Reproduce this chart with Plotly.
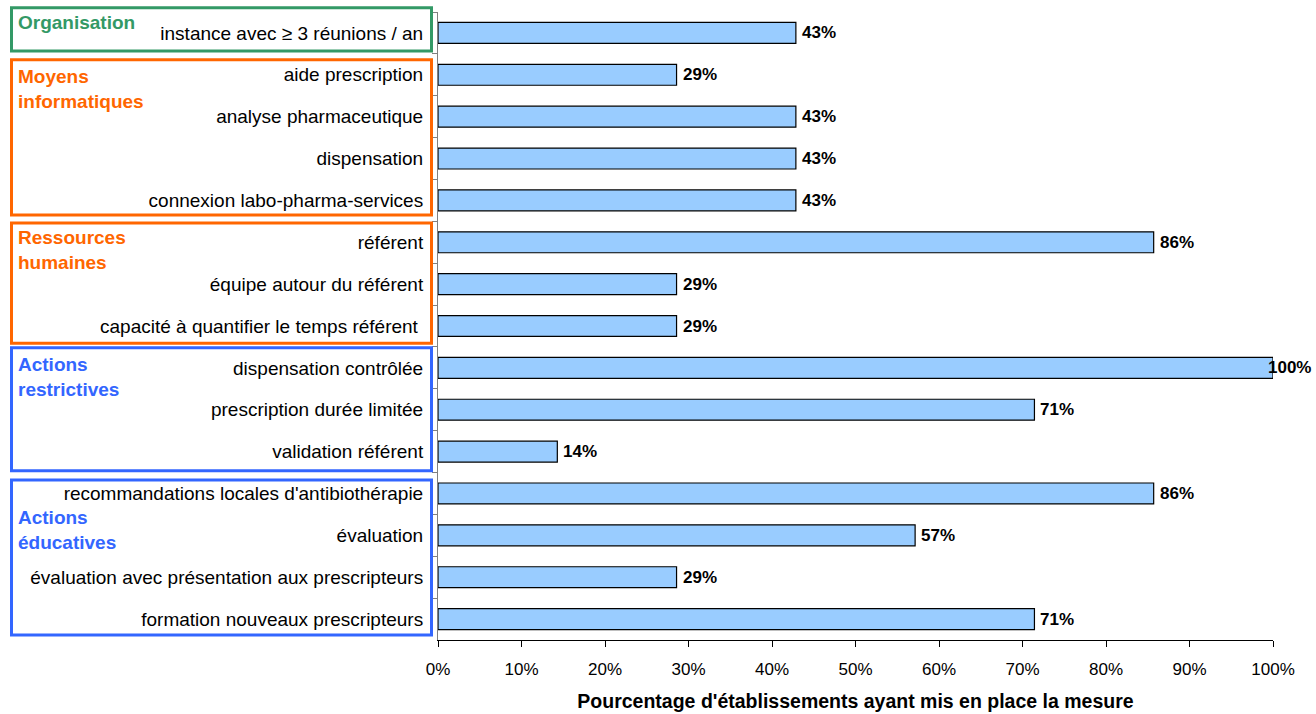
import plotly.graph_objects as go

# Measures (top to bottom) and share of establishments (n out of 7) that implemented each one
categories = [
    "instance avec ≥ 3 réunions / an",
    "aide prescription",
    "analyse pharmaceutique",
    "dispensation",
    "connexion labo-pharma-services",
    "référent",
    "équipe autour du référent",
    "capacité à quantifier le temps référent\u00a0",
    "dispensation contrôlée",
    "prescription durée limitée",
    "validation référent",
    "recommandations locales d'antibiothérapie",
    "évaluation",
    "évaluation avec présentation aux prescripteurs",
    "formation nouveaux prescripteurs",
]
values = [42.86, 28.57, 42.86, 42.86, 42.86, 85.71, 28.57, 28.57,
          100.0, 71.43, 14.29, 85.71, 57.14, 28.57, 71.43]

# Groups of measures: title, first and last row index
group_titles = ["Organisation", "Moyens<br>informatiques", "Ressources<br>humaines",
                "Actions<br>restrictives", "Actions<br>éducatives"]
group_first = [0, 1, 5, 8, 11]
group_last = [0, 4, 7, 10, 14]

x_ticks = [0, 10, 20, 30, 40, 50, 60, 70, 80, 90, 100]
x_tick_labels = [f"{t}%" for t in x_ticks]

# Styling of the group frames
group_colors = ["#339966", "#FF6600", "#FF6600", "#3366FF", "#3366FF"]
frame_top_pad = [0.60, 0.36, 0.46, 0.48, 0.32]
frame_bottom_pad = [0.43, 0.35, 0.41, 0.46, 0.38]
title_row_pos = [-0.26, 1.34, 5.18, 8.22, 11.87]

FONT = "Arial, 'Liberation Sans', sans-serif"
W, H = 1316, 714
M_L, M_R, M_T, M_B = 438, 43, 12, 74
plot_w = W - M_L - M_R
n = len(categories)


def row_to_paper(r):
    return 1 - (r + 0.5) / n


def px_to_paper_x(px):
    return (px - M_L) / plot_w


fig = go.Figure(go.Bar(
    x=values,
    y=categories,
    orientation="h",
    width=0.5,
    marker=dict(color="#99CCFF", line=dict(color="#000000", width=1.2)),
    hoverinfo="x+y",
))

# value labels at the end of each bar
for cat, v in zip(categories, values):
    fig.add_annotation(
        x=v, y=cat, xref="x", yref="y",
        text=f"<b>{v:.0f}%</b>", showarrow=False,
        xanchor="left", xshift=4 if v < 100 else -7,
        font=dict(family=FONT, size=17, color="#000000"),
    )

# group frames and titles
for title, f, l, c, tp, bp, tr in zip(group_titles, group_first, group_last,
                                       group_colors, frame_top_pad,
                                       frame_bottom_pad, title_row_pos):
    fig.add_shape(
        type="rect", xref="paper", yref="paper",
        x0=px_to_paper_x(11.5), x1=px_to_paper_x(431.5),
        y0=row_to_paper(l + bp), y1=row_to_paper(f - tp),
        line=dict(color=c, width=3), fillcolor="rgba(0,0,0,0)",
    )
    fig.add_annotation(
        xref="paper", yref="paper",
        x=px_to_paper_x(16), y=row_to_paper(tr),
        text=f"<b>{title}</b>", showarrow=False,
        xanchor="left", yanchor="middle", align="left",
        font=dict(family=FONT, size=19, color=c),
    )

fig.update_layout(
    width=W, height=H,
    margin=dict(l=M_L, r=M_R, t=M_T, b=M_B),
    paper_bgcolor="white", plot_bgcolor="white",
    showlegend=False,
    font=dict(family=FONT, color="#000000"),
    bargap=0.5,
)
fig.update_xaxes(
    range=[0, 100],
    automargin=False,
    tickvals=x_ticks, ticktext=x_tick_labels,
    ticks="outside", ticklen=6, tickcolor="#000000",
    showline=True, linecolor="#000000", linewidth=1,
    showgrid=False, zeroline=False,
    tickfont=dict(family=FONT, size=17, color="#000000"),
    ticklabelstandoff=8,
    title=dict(text="<b>Pourcentage d'établissements ayant mis en place la mesure</b>",
               font=dict(family=FONT, size=19.5, color="#000000"), standoff=15),
)
fig.update_yaxes(
    autorange="reversed",
    type="category",
    automargin=False,
    ticks="outside", ticklen=5, tickcolor="#808080", tickson="boundaries",
    showline=True, linecolor="#808080", linewidth=1,
    showgrid=False, zeroline=False,
    tickfont=dict(family=FONT, size=19, color="#000000"),
    ticklabelstandoff=10,
)

fig.write_html("out.html")
